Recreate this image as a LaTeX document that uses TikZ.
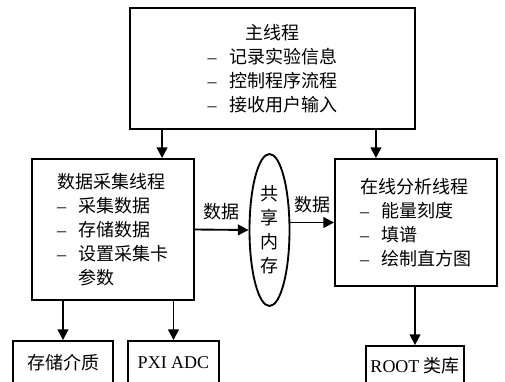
\documentclass[tikz,border=0pt]{standalone}
\usepackage{fontspec}
\setmainfont{Liberation Serif}
\newfontfamily\cjk{Noto Sans CJK SC}
\usetikzlibrary{arrows.meta,shapes.geometric}

\definecolor{cor_linha}{named}{black}
\newcommand{\traco}{\makebox[1.2em][l]{\rmfamily\textendash}}

\begin{document}
\begin{tikzpicture}[x=0.75pt,y=-0.75pt]
        \tikzset{
            bloco/.style={
                draw=cor_linha,
                line width=1.4pt,
                fill=white,
                inner sep=0pt,
                font=\cjk\fontsize{13.5pt}{18pt}\selectfont
            },
            seta/.style={
                draw=cor_linha,
                line width=1.4pt,
                -{Triangle[length=8pt,width=8pt]}
            },
            rotulo/.style={
                font=\cjk\fontsize{13.5pt}{18pt}\selectfont
            }
        }
        \useasboundingbox (0,0) rectangle (505,381);
        \clip (0,0) rectangle (505,381);

        % THREADS
        \node[bloco, minimum width=213.75pt, minimum height=90.75pt, align=center] (main) at (272.5,68.5)
            {主线程\\ \traco 记录实验信息\\ \traco 控制程序流程\\ \traco 接收用户输入};
        \node[bloco, minimum width=121.5pt, minimum height=105.75pt, align=left] (acq) at (113,229.5)
            {数据采集线程\\ \traco 采集数据\\ \traco 存储数据\\ \traco 设置采集卡\\ \hspace*{1.2em}参数};
        \node[bloco, minimum width=121.5pt, minimum height=95.25pt, align=left] (ana) at (416,222.5)
            {在线分析线程\\ \traco 能量刻度\\ \traco 填谱\\ \traco 绘制直方图};

        % SHARED MEMORY
        \node[bloco, ellipse, minimum width=30pt, minimum height=114pt, align=center] (shm) at (269.5,230)
            {共\\享\\内\\存};

        % DEVICES
        \node[bloco, minimum width=75pt, minimum height=32.25pt] (store) at (63,362.5) {存储介质};
        \node[bloco, minimum width=68.25pt, minimum height=32.25pt] (pxi) at (173.5,362.5) {\rmfamily PXI ADC};
        \node[bloco, minimum width=73.5pt, minimum height=30pt] (root) at (415,366) {{\rmfamily ROOT} 类库};

        \draw[seta] ([xshift=24.75pt]main.south west) coordinate (m1) -- (m1 |- acq.north);
        \draw[seta] ([xshift=-30pt]main.south east) coordinate (m2) -- (m2 |- ana.north);

        \draw[seta] (acq.east) -- node[rotulo, above=3pt] {数据} (shm.west);
        \draw[seta] (shm.east |- ana.west) -- node[rotulo, above=3pt] {数据} (ana.west);

        \draw[seta] (acq.south -| store) -- (store.north);
        \draw[seta] (acq.south -| pxi) -- (pxi.north);
        \draw[seta] (ana.south -| root) -- (root.north);

    \end{tikzpicture}
\end{document}
